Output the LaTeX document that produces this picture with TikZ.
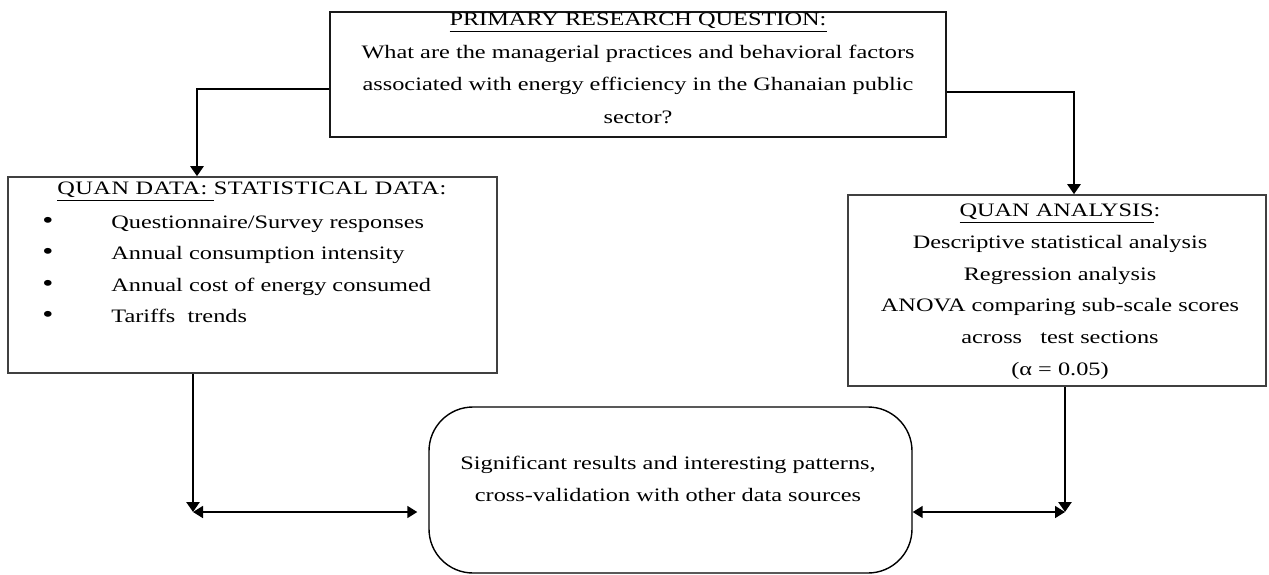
\documentclass[tikz,border=0pt]{standalone}
\usepackage{fontspec}
\setmainfont{Liberation Serif}[FakeStretch=1.28]
\usetikzlibrary{arrows.meta}

\tikzset{
  box/.style = {draw = black!75, line width = 0.8pt, inner sep = 0pt},
  roundbox/.style = {draw = black, line width = 0.7pt, inner sep = 0pt, rounded corners = 22pt},
  boxtext/.style = {inner sep = 0pt, align = center},
  flow/.style = {-{Triangle[length = 5pt, width = 6.5pt]}, line width = 1.3pt},
  link/.style = {{Triangle[length = 5pt, width = 6pt]}-{Triangle[length = 5pt, width = 6pt]}, line width = 0.8pt}
}
\newcommand{\listdot}{\makebox[34.5pt][l]{\scalebox{1.3}{\textbullet}}}

\begin{document}
\begin{tikzpicture}[x = 0.5pt, y = -0.5pt, font = \fontsize{9.5}{16}\selectfont]
\useasboundingbox (0,0) rectangle (1269,574);
% boxes
\node[box, draw = black!90, minimum width = 308pt, minimum height = 62.5pt] (question) at (638,74.5) {};
\node[box, minimum width = 244.5pt, minimum height = 98pt] (quandata) at (252.5,275) {};
\node[box, minimum width = 209pt, minimum height = 95.5pt] (quananalysis) at (1057,290.5) {};
\node[roundbox, minimum width = 241.5pt, minimum height = 83pt] (results) at (670.5,490) {};
% texts
\node[boxtext, anchor = north, font = \fontsize{9.5}{16.3}\selectfont] (questiontext) at (638,12.75) {\underline{PRIMARY RESEARCH QUESTION:}\\
What are the managerial practices and behavioral factors\\
associated with energy efficiency in the Ghanaian public\\
sector?};
\node[boxtext, anchor = west] (datahead) at (57,192) {\addfontfeature{LetterSpace=2.6}\underline{QUAN DATA: }STATISTICAL DATA:};
\node[boxtext, anchor = north west, align = left, font = \fontsize{9.5}{15.7}\selectfont] (datalist) at (42,215.5) {\listdot Questionnaire/Survey responses\\
\listdot Annual consumption intensity\\
\listdot Annual cost of energy consumed\\
\listdot Tariffs~~trends};
\node[boxtext, anchor = north, font = \fontsize{9.5}{15.9}\selectfont] (analysistext) at (1060,203.5) {\underline{QUAN ANALYSIS}:\\
Descriptive statistical analysis\\
Regression analysis\\
ANOVA comparing sub-scale scores\\
across~~~test sections\\
(α = 0.05)};
\node[boxtext, anchor = north] (resultstext) at (668,455.5) {Significant results and interesting patterns,\\
cross-validation with other data sources};
% meeting points
\coordinate (lmeet) at (193,512);
\coordinate (rmeet) at (1065,512);
% connectors
\draw[flow] ([yshift = -7.25pt]question.west) -| ([xshift = -27.75pt]quandata.north);
\draw[flow] ([yshift = -8.75pt]question.east) -| ([xshift = 8.5pt]quananalysis.north);
\draw[flow] (quandata.south -| lmeet) -- (lmeet);
\draw[flow] (quananalysis.south -| rmeet) -- (rmeet);
\draw[link, shorten > = 5.5pt] (lmeet) -- (lmeet -| results.west);
\draw[link] (results.east |- rmeet) -- (rmeet);
\end{tikzpicture}
\end{document}
